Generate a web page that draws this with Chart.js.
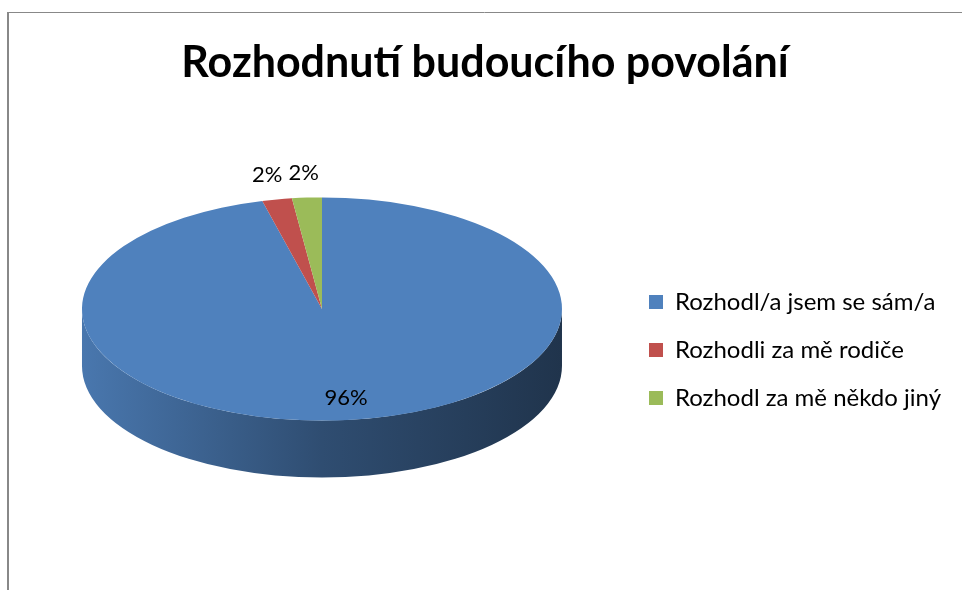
<!DOCTYPE html>
<html>
<head>
<meta charset="utf-8">
<script src="https://cdn.jsdelivr.net/npm/chart.js@4.4.0/dist/chart.umd.min.js"></script>
<style>
    body { margin: 0; background: #fff; }
</style>
</head>
<body>
<canvas id="chart" width="962" height="590"></canvas>
<script>
const title = 'Rozhodnutí budoucího povolání';
const answers = [
    'Rozhodl/a jsem se sám/a',
    'Rozhodli za mě rodiče',
    'Rozhodl za mě někdo jiný'
];
const shares = [96, 2, 2];
const colors = ['#4F81BD', '#C0504D', '#9BBB59'];

// fake 3D look: squash the pie and draw the front wall under it
const tilt = 0.465;
const depth = 57;
const lift = -41;

function shade(hex, f){
    const n = parseInt(hex.slice(1), 16);
    const r = Math.round(((n >> 16) & 255) * f);
    const g = Math.round(((n >> 8) & 255) * f);
    const b = Math.round((n & 255) * f);
    return 'rgb(' + r + ',' + g + ',' + b + ')';
}

const frame = {
    id: 'frame',
    beforeDraw(chart){
        const ctx = chart.ctx;
        ctx.save();
        ctx.strokeStyle = '#888888';
        ctx.lineWidth = 2;
        ctx.beginPath();
        ctx.moveTo(8, 590);
        ctx.lineTo(8, 12);
        ctx.stroke();
        ctx.lineWidth = 1;
        ctx.beginPath();
        ctx.moveTo(7, 12.5);
        ctx.lineTo(962, 12.5);
        ctx.stroke();
        ctx.restore();
    }
};

const pie3d = {
    id: 'pie3d',
    beforeDatasetsDraw(chart){
        const ctx = chart.ctx;
        const arcs = chart.getDatasetMeta(0).data;
        const x = arcs[0].x, y = arcs[0].y, r = arcs[0].outerRadius;
        const cy = y + lift;
        const ry = r * tilt;

        ctx.save();
        arcs.forEach(function(arc, i){
            const grad = ctx.createLinearGradient(x - r, 0, x + r, 0);
            grad.addColorStop(0, shade(colors[i], 0.92));
            grad.addColorStop(0.5, shade(colors[i], 0.6));
            grad.addColorStop(1, shade(colors[i], 0.4));
            // only the front half of the rim is visible
            [0, 2 * Math.PI, -2 * Math.PI].forEach(function(base){
                const s = Math.max(arc.startAngle, base);
                const e = Math.min(arc.endAngle, base + Math.PI);
                if (e <= s) return;
                ctx.beginPath();
                ctx.ellipse(x, cy, r, ry, 0, s, e);
                ctx.ellipse(x, cy + depth, r, ry, 0, e, s, true);
                ctx.closePath();
                ctx.fillStyle = grad;
                ctx.fill();
            });
        });
        ctx.restore();

        ctx.save();
        ctx.translate(0, cy);
        ctx.scale(1, tilt);
        ctx.translate(0, -y);
    },
    afterDatasetsDraw(chart){
        const ctx = chart.ctx;
        ctx.restore();

        const arcs = chart.getDatasetMeta(0).data;
        const x = arcs[0].x, y = arcs[0].y, r = arcs[0].outerRadius;
        const cy = y + lift;
        const total = shares.reduce(function(a, b){ return a + b; }, 0);

        ctx.save();
        ctx.font = '22px Lato';
        ctx.fillStyle = '#000';
        ctx.textAlign = 'center';
        ctx.textBaseline = 'middle';
        arcs.forEach(function(arc, i){
            const mid = (arc.startAngle + arc.endAngle) / 2;
            const part = shares[i] / total;
            const k = part < 0.05 ? 1.22 : 0.8;
            const lx = x + Math.cos(mid) * r * k;
            const ly = cy + Math.sin(mid) * r * k * tilt;
            ctx.fillText(Math.round(part * 100) + '%', lx, ly);
        });
        ctx.restore();
    }
};

const chart = new Chart(document.getElementById('chart'), {
    type: 'pie',
    data: {
        labels: answers,
        datasets: [{
            data: shares,
            backgroundColor: colors,
            borderWidth: 0
        }]
    },
    options: {
        responsive: false,
        animation: false,
        layout: {
            padding: { top: 37, left: 19, right: 11, bottom: 0 }
        },
        plugins: {
            title: {
                display: true,
                text: title,
                color: '#000',
                font: { family: 'Lato', size: 43, weight: 'bold' },
                padding: { top: 0, bottom: 21.4 }
            },
            legend: {
                position: 'right',
                fullSize: false,
                labels: {
                    color: '#000',
                    font: { family: 'Lato', size: 24 },
                    boxWidth: 14,
                    boxHeight: 14,
                    padding: 24
                }
            },
            tooltip: { enabled: false }
        }
    },
    plugins: [frame, pie3d]
});
</script>
</body>
</html>
